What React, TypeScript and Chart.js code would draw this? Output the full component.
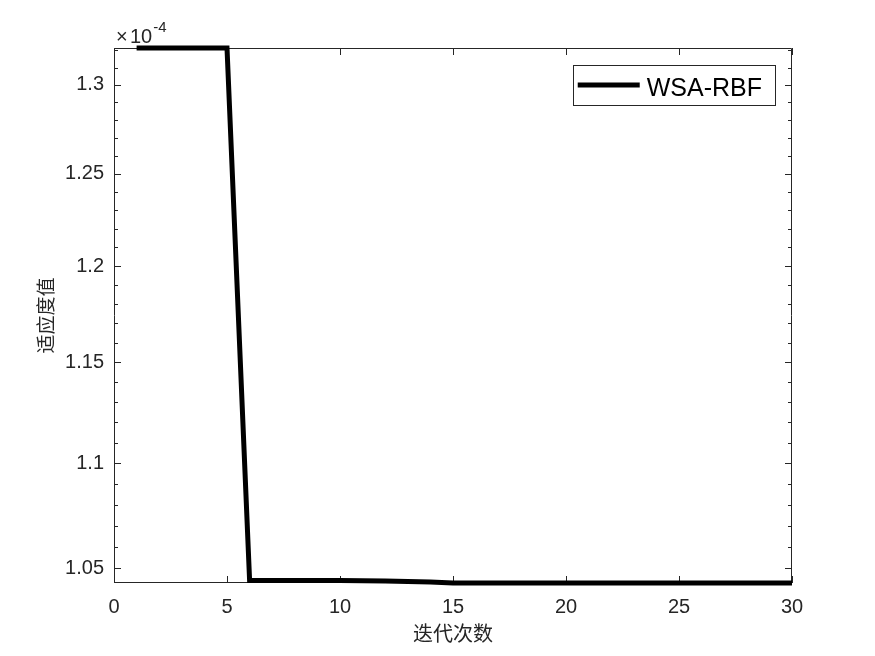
import React, { useEffect, useRef } from "react";
import { Chart, registerables } from "chart.js";

Chart.register(...registerables);

const iterations = [1, 2, 3, 4, 5, 6, 7, 8, 9, 10, 11, 12, 13, 14, 15, 16, 17, 18, 19, 20, 21, 22, 23, 24, 25, 26, 27, 28, 29, 30];
const fitness = [
  1.3214, 1.3214, 1.3214, 1.3214, 1.3214, 1.0443, 1.0443, 1.0443, 1.0443, 1.0443,
  1.0442, 1.0441, 1.0439, 1.0437, 1.0432, 1.0432, 1.0432, 1.0432, 1.0432, 1.0432,
  1.0432, 1.0432, 1.0432, 1.0432, 1.0432, 1.0432, 1.0432, 1.0432, 1.0432, 1.0432,
];
const seriesName = "WSA-RBF";
const xTicks = [0, 5, 10, 15, 20, 25, 30];
const yTicks = [1.05, 1.1, 1.15, 1.2, 1.25, 1.3];
const yTickLabels = ["1.05", "1.1", "1.15", "1.2", "1.25", "1.3"];
const yMinorTicks = [
  1.06, 1.07, 1.08, 1.09, 1.11, 1.12, 1.13, 1.14, 1.16, 1.17, 1.18, 1.19,
  1.21, 1.22, 1.23, 1.24, 1.26, 1.27, 1.28, 1.29, 1.31, 1.32,
];
const xTitle = "迭代次数";
const yTitle = "适应度值";
const exponentBase = "10";
const exponentLabel = "-4";

const AXIS = "#262626";
const SANS = "'Liberation Sans', Arial, sans-serif";
const CJK = "'Noto Sans CJK SC', sans-serif";

const framePlugin = {
  id: "matlabFrame",
  beforeDatasetsDraw(chart: any) {
    const { ctx, chartArea, scales } = chart;
    const { left, right, top, bottom } = chartArea;
    const xs = scales.x;
    const ys = scales.y;
    ctx.save();
    ctx.strokeStyle = AXIS;
    ctx.lineWidth = 1;
    ctx.beginPath();
    ctx.rect(left + 0.5, top + 0.5, right - left - 1, bottom - top - 1);
    ctx.stroke();
    ctx.beginPath();
    xTicks.forEach((v) => {
      const px = Math.round(xs.getPixelForValue(v)) + 0.5;
      ctx.moveTo(px, bottom);
      ctx.lineTo(px, bottom - 7);
      ctx.moveTo(px, top);
      ctx.lineTo(px, top + 7);
    });
    yTicks.forEach((v) => {
      const py = Math.round(ys.getPixelForValue(v)) + 0.5;
      ctx.moveTo(left, py);
      ctx.lineTo(left + 7, py);
      ctx.moveTo(right, py);
      ctx.lineTo(right - 7, py);
    });
    yMinorTicks.forEach((v) => {
      const py = Math.round(ys.getPixelForValue(v)) + 0.5;
      if (py < top || py > bottom) return;
      ctx.moveTo(left, py);
      ctx.lineTo(left + 4, py);
      ctx.moveTo(right, py);
      ctx.lineTo(right - 4, py);
    });
    ctx.stroke();
    ctx.restore();
  },
  afterDraw(chart: any) {
    const { ctx, chartArea } = chart;
    const { left, right, top } = chartArea;
    ctx.save();
    // exponent label
    ctx.fillStyle = AXIS;
    ctx.textBaseline = "alphabetic";
    ctx.textAlign = "left";
    ctx.font = `20px ${SANS}`;
    ctx.fillText("×", left + 2, top - 5);
    ctx.fillText(exponentBase, left + 16, top - 5);
    const bw = ctx.measureText(exponentBase).width;
    ctx.font = `15px ${SANS}`;
    ctx.fillText(exponentLabel, left + 16 + bw + 1, top - 16);

    // legend
    ctx.font = `25px ${SANS}`;
    const tw = ctx.measureText(seriesName).width;
    const boxRight = right - 17;
    const boxTop = top + 17;
    const boxH = 40;
    const lineLen = 62;
    const boxW = 5 + lineLen + 7 + tw + 13;
    const boxLeft = boxRight - boxW;
    ctx.fillStyle = "#ffffff";
    ctx.fillRect(boxLeft, boxTop, boxW, boxH);
    ctx.strokeStyle = AXIS;
    ctx.lineWidth = 1;
    ctx.strokeRect(Math.round(boxLeft) + 0.5, boxTop + 0.5, Math.round(boxW), boxH);
    ctx.strokeStyle = "#000000";
    ctx.lineWidth = 5;
    ctx.beginPath();
    ctx.moveTo(boxLeft + 5, boxTop + 20);
    ctx.lineTo(boxLeft + 5 + lineLen, boxTop + 20);
    ctx.stroke();
    ctx.fillStyle = "#000000";
    ctx.textBaseline = "alphabetic";
    ctx.fillText(seriesName, boxLeft + 5 + lineLen + 7, boxTop + 31);
    ctx.restore();
  },
};

export default function App() {
  const ref = useRef<HTMLCanvasElement | null>(null);
  useEffect(() => {
    document.body.style.margin = "0";
    const canvas = ref.current;
    if (!canvas) return;
    const chart = new Chart(canvas, {
      type: "line",
      data: {
        labels: iterations,
        datasets: [
          {
            label: seriesName,
            data: iterations.map((x, i) => ({ x, y: fitness[i] })),
            borderColor: "#000000",
            borderWidth: 5,
            pointRadius: 0,
            tension: 0,
            borderJoinStyle: "miter",
            fill: false,
            clip: false,
          },
        ],
      },
      options: {
        animation: false,
        responsive: false,
        layout: { padding: { top: 48, right: 83, bottom: 0, left: 0 } },
        plugins: { legend: { display: false }, tooltip: { enabled: false } },
        scales: {
          x: {
            type: "linear",
            min: 0,
            max: 30,
            grid: { display: false, drawTicks: false },
            border: { display: false },
            afterBuildTicks: (scale: any) => {
              scale.ticks = xTicks.map((v) => ({ value: v }));
            },
            afterFit: (scale: any) => {
              scale.height = 73;
            },
            ticks: {
              color: AXIS,
              font: { family: SANS, size: 20 },
              padding: 12,
              maxRotation: 0,
              autoSkip: false,
              callback: (v: any) => String(v),
            },
            title: {
              display: true,
              text: xTitle,
              color: AXIS,
              font: { family: CJK, size: 20 },
              padding: { top: 0, bottom: 11 },
            },
          },
          y: {
            type: "logarithmic",
            min: 1.0432,
            max: 1.3214,
            grid: { display: false, drawTicks: false },
            border: { display: false },
            afterBuildTicks: (scale: any) => {
              scale.ticks = yTicks.map((v) => ({ value: v }));
            },
            afterFit: (scale: any) => {
              scale.width = 114;
            },
            ticks: {
              color: AXIS,
              font: { family: SANS, size: 20 },
              padding: 10,
              autoSkip: false,
              callback: (_v: any, i: number) => yTickLabels[i],
            },
            title: {
              display: true,
              text: yTitle,
              color: AXIS,
              font: { family: CJK, size: 19 },
              padding: { top: 34, bottom: 0 },
            },
          },
        },
      },
      plugins: [framePlugin],
    } as any);
    return () => chart.destroy();
  }, []);
  return (
    <div style={{ width: 875, height: 656 }}>
      <canvas ref={ref} width={875} height={656} />
    </div>
  );
}
